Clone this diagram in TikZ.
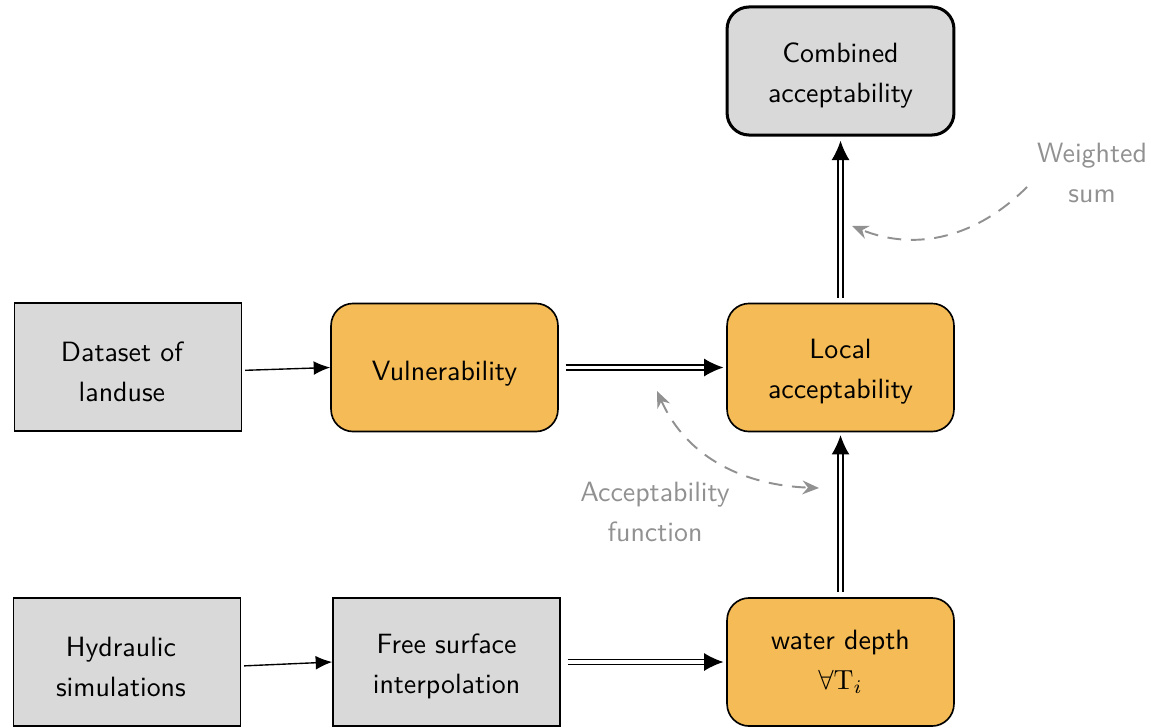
\documentclass[tikz,border=0pt]{standalone}
\usetikzlibrary{arrows.meta}
\definecolor{boxgray}{RGB}{217,217,217}
\definecolor{boxorange}{RGB}{244,187,86}
\definecolor{hintgray}{RGB}{145,145,145}
\newcommand\mytstrut[1]{\rule{0pt}{#1}}
\newcommand\mylshift{\hspace*{-4.4pt}}
\begin{document}
\begin{tikzpicture}[x=0.3623pt,y=-0.3623pt,
  font=\sffamily\fontsize{10.1}{14.5}\selectfont,
  box/.style={draw=black, line width=0.6pt, minimum width=82.2pt, minimum height=46.4pt,
    align=center, inner sep=2pt, fill=boxgray},
  proc/.style={box, rounded corners=8pt, fill=boxorange},
  conn/.style={-{Latex[length=6pt,width=5pt]}, line width=0.5pt},
  dconn/.style={double, double distance=1.3pt, line width=0.5pt, -{Latex[length=7pt,width=6.5pt]}},
  hint/.style={draw=hintgray, line width=0.7pt, dash pattern=on 5pt off 3.5pt},
  hintlabel/.style={text=hintgray, align=center}
]
\useasboundingbox (0,0) rectangle (1151,727);
% nodes
\node[box] (dataset) at (128,367) {\mytstrut{10.3pt}\mylshift Dataset of\\\mylshift landuse};
\node[proc] (vuln) at (444.5,367.5) {\mytstrut{11.5pt}Vulnerability};
\node[proc] (local) at (840.5,367.5) {\mytstrut{10.1pt}Local\\acceptability};
\node[box, rounded corners=8pt, line width=1.1pt] (comb) at (840.5,71) {\mytstrut{10.3pt}Combined\\acceptability};
\node[box] (hydro) at (127,662) {\mytstrut{10.3pt}\mylshift Hydraulic\\\mylshift simulations};
\node[box] (free) at (446.5,662) {\mytstrut{10.3pt}Free surface\\interpolation};
\node[proc] (water) at (840.5,662) {water depth\\$\forall\mathrm{T}_i$};
% labels
\node[hintlabel] (ws) at (1092,173) {Weighted\\sum};
\node[hintlabel] (af) at (655,512) {Acceptability\\function};
\coordinate (ws0) at (1027,187);
\coordinate (ws1) at (852,226);
\coordinate (af0) at (657,391);
\coordinate (af1) at (819,488);
% connectors
\draw[conn] ([xshift=1pt,yshift=-1.2pt]dataset.east) -- (vuln.west);
\draw[conn] ([xshift=1pt,yshift=-1.4pt]hydro.east) -- (free.west);
\draw[dconn] ([xshift=2.5pt]vuln.east) -- ([xshift=-1pt]local.west);
\draw[dconn] ([xshift=2.5pt]free.east) -- ([xshift=-1pt]water.west);
\draw[dconn] ([yshift=1.8pt]water.north) -- ([yshift=-1pt]local.south);
\draw[dconn] ([yshift=1.8pt]local.north) -- ([yshift=-1.5pt]comb.south);
% hint arrows
\draw[hint, -{Stealth[length=6pt,width=5pt,inset=2pt]}] (ws0) to[out=225,in=-22] (ws1);
\draw[hint, {Stealth[length=6pt,width=5pt,inset=2pt]}-{Stealth[length=6pt,width=5pt,inset=2pt]}] (af0) to[out=-66,in=178] (af1);
\end{tikzpicture}
\end{document}
